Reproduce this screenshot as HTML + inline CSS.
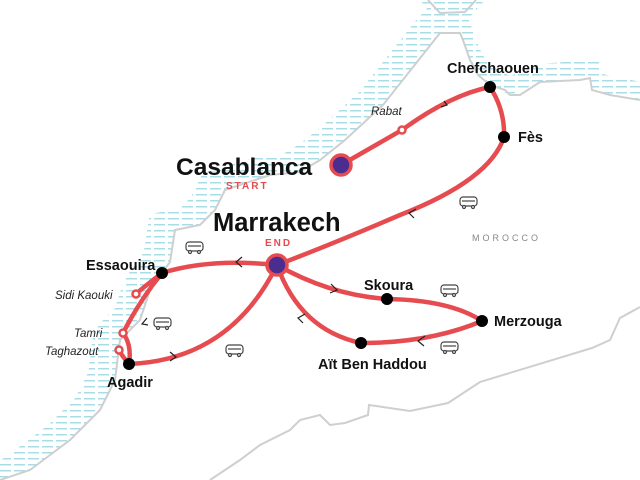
<!DOCTYPE html>
<html><head><meta charset="utf-8"><style>
html,body{margin:0;padding:0;background:#fff;}
svg{display:block;}
text{font-family:"Liberation Sans",sans-serif;}
.c{font-weight:bold;font-size:14.5px;fill:#111;}
.i{font-style:italic;font-size:11.5px;fill:#222;}
</style></head><body>
<svg width="640" height="480" viewBox="0 0 640 480" xmlns="http://www.w3.org/2000/svg">
<defs>
<pattern id="h" width="14" height="6" patternUnits="userSpaceOnUse">
<rect x="0" y="2" width="11" height="1.5" fill="#a9dde6"/>
</pattern>
<mask id="m">
<path d="M475,-5 L440,33 L383,105 L345,140 L320,160 L300,172 L270,175 L225,190 L215,210 L200,225 L175,230 L170,262 L150,290 L140,320 L120,340 L115,380 L100,410 L70,440 L30,470 L0,490" transform="translate(-13,-4)" fill="none" stroke="#fff" stroke-width="28"/>
<path d="M440,33 L460,33 L470,60 L478,75 L490,85 L510,95 L540,82 L590,78 L592,90 L640,100" transform="translate(0,-8)" fill="none" stroke="#fff" stroke-width="20"/>
<path d="M425,-5 L440,13 L465,12 L480,-5" fill="none" stroke="#fff" stroke-width="14"/>
</mask>
</defs>
<rect width="640" height="480" fill="url(#h)" mask="url(#m)"/>
<path d="M640,100 L592,90 L590,78 L540,82 L510,95 L490,85 L478,75 L470,60 L460,33 L440,33 L383,105 L345,140 L320,160 L300,172 L270,175 L225,190 L215,210 L200,225 L175,230 L170,262 L150,290 L140,320 L120,340 L115,380 L100,410 L70,440 L30,470 L0,480 L640,480Z" fill="#fff"/>
<g fill="none" stroke="#cfcfcf" stroke-width="2">
<path d="M640,100 L610,95 L592,90 L590,78 L580,80 L540,82 L520,95 L510,95 L505,90 L490,85 L478,75 L470,60 L463,40 L460,33 L440,33 L383,105 L345,140 L320,160 L300,172 L270,175 L225,190 L215,210 L200,225 L175,230 L170,262 L150,290 L140,320 L120,340 L115,380 L100,410 L70,440 L30,470 L0,480"/>
<path d="M428,0 L440,13 L465,12 L476,0"/>
<path d="M640,307 L620,318 L610,340 L592,348 L480,382 L448,403 L410,411 L369,405 L368,415 L345,423 L330,425 L320,415 L300,420 L290,430 L260,445 L240,460 L210,480"/>
</g>
<g fill="none" stroke="#e64b50" stroke-width="4.5" stroke-linecap="round">
<path d="M341,165 L402,130 Q450,95 490,87 Q505,110 504,137 Q490,180 400,215 Q330,245 277,265"/>
<path d="M277,265 Q210,258 162,273 Q140,290 136,294"/>
<path d="M162,273 Q140,300 123,333 Q132,345 129,364 Q122,356 119,350"/>
<path d="M129,364 Q230,360 277,265"/>
<path d="M277,265 Q330,295 387,299 Q450,300 482,321 Q430,343 361,343 Q300,330 277,265"/>
</g>
<g fill="none" stroke="#222" stroke-width="1.2">
<path d="M444,101 L447,105 L441,107"/>
<path d="M416,209 L409,213 L414,218"/>
<path d="M242,257 L236,262 L242,267"/>
<path d="M147,318 L142,324 L148,325"/>
<path d="M170,352 L176,357 L170,361"/>
<path d="M331,284 L337,290 L330,293"/>
<path d="M305,314 L298,318 L303,323"/>
<path d="M425,336 L418,341 L424,346"/>
</g>
<g fill="#fff" stroke="#e64b50" stroke-width="2.5">
<circle cx="402" cy="130" r="3.5"/><circle cx="136" cy="294" r="3.5"/>
<circle cx="123" cy="333" r="3.5"/><circle cx="119" cy="350" r="3.5"/>
</g>
<g fill="#000">
<circle cx="490" cy="87" r="6"/><circle cx="504" cy="137" r="6"/>
<circle cx="162" cy="273" r="6"/><circle cx="129" cy="364" r="6"/>
<circle cx="387" cy="299" r="6"/><circle cx="482" cy="321" r="6"/>
<circle cx="361" cy="343" r="6"/>
</g>
<circle cx="341" cy="165" r="10" fill="#4a2d8f" stroke="#e64b50" stroke-width="3.5"/>
<circle cx="277" cy="265" r="10" fill="#4a2d8f" stroke="#e64b50" stroke-width="3.5"/>
<text x="176" y="175" style="font-size:24.5px;font-weight:bold" fill="#111">Casablanca</text>
<text x="213" y="231" style="font-size:25.5px;font-weight:bold" fill="#111">Marrakech</text>
<text x="226" y="189" font-size="10" font-weight="bold" fill="#e64b50" letter-spacing="2">START</text>
<text x="265" y="246" font-size="10" font-weight="bold" fill="#e64b50" letter-spacing="2">END</text>
<text class="c" x="447" y="73">Chefchaouen</text>
<text class="c" x="518" y="142">Fès</text>
<text class="c" x="86" y="270">Essaouira</text>
<text class="c" x="107" y="387">Agadir</text>
<text class="c" x="364" y="290">Skoura</text>
<text class="c" x="494" y="326">Merzouga</text>
<text class="c" x="318" y="369">Aït Ben Haddou</text>
<text class="i" x="371" y="115">Rabat</text>
<text class="i" x="55" y="299">Sidi Kaouki</text>
<text class="i" x="74" y="337">Tamri</text>
<text class="i" x="45" y="355">Taghazout</text>
<text x="472" y="241" font-size="9" fill="#888" letter-spacing="3">MOROCCO</text>
<g fill="none" stroke="#444" stroke-width="1.2">
<g transform="translate(460,197)"><rect x="0" y="0" width="17" height="9" rx="3"/><line x1="2" y1="4" x2="15" y2="4"/><circle cx="4" cy="10" r="1.5" fill="#fff"/><circle cx="13" cy="10" r="1.5" fill="#fff"/></g>
<g transform="translate(186,242)"><rect x="0" y="0" width="17" height="9" rx="3"/><line x1="2" y1="4" x2="15" y2="4"/><circle cx="4" cy="10" r="1.5" fill="#fff"/><circle cx="13" cy="10" r="1.5" fill="#fff"/></g>
<g transform="translate(154,318)"><rect x="0" y="0" width="17" height="9" rx="3"/><line x1="2" y1="4" x2="15" y2="4"/><circle cx="4" cy="10" r="1.5" fill="#fff"/><circle cx="13" cy="10" r="1.5" fill="#fff"/></g>
<g transform="translate(226,345)"><rect x="0" y="0" width="17" height="9" rx="3"/><line x1="2" y1="4" x2="15" y2="4"/><circle cx="4" cy="10" r="1.5" fill="#fff"/><circle cx="13" cy="10" r="1.5" fill="#fff"/></g>
<g transform="translate(441,285)"><rect x="0" y="0" width="17" height="9" rx="3"/><line x1="2" y1="4" x2="15" y2="4"/><circle cx="4" cy="10" r="1.5" fill="#fff"/><circle cx="13" cy="10" r="1.5" fill="#fff"/></g>
<g transform="translate(441,342)"><rect x="0" y="0" width="17" height="9" rx="3"/><line x1="2" y1="4" x2="15" y2="4"/><circle cx="4" cy="10" r="1.5" fill="#fff"/><circle cx="13" cy="10" r="1.5" fill="#fff"/></g>
</g>
</svg>
</body></html>
